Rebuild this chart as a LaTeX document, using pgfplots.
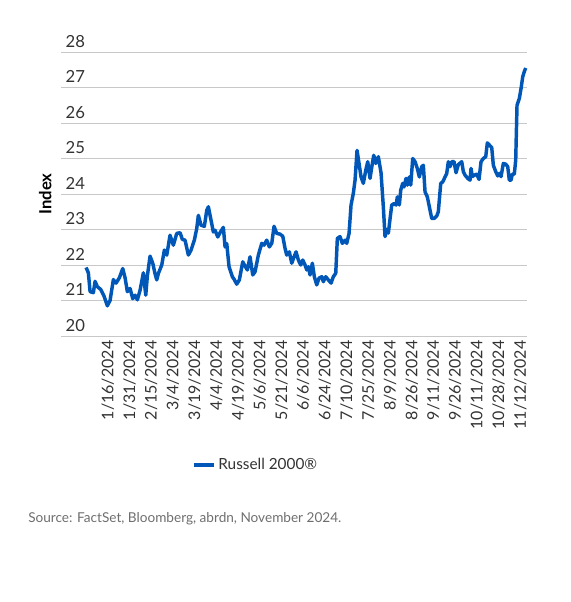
\documentclass[border=0pt]{standalone}
\usepackage{fontspec}
\setmainfont{Lato}
\usepackage{pgfplots}
\pgfplotsset{compat=1.18}
\definecolor{lineblue}{RGB}{0,87,184}
\definecolor{gridgray}{RGB}{200,200,200}
\definecolor{txt}{RGB}{51,51,51}
\definecolor{srcgray}{RGB}{110,110,110}
\begin{document}
\begin{tikzpicture}
\path[use as bounding box] (0,0) rectangle (427.5pt,-451.5pt);
\begin{axis}[
  at={(45.75pt,-252pt)}, anchor=south west,
  scale only axis, width=349.5pt, height=213pt,
  xmin=-12.7, xmax=223.4, ymin=20, ymax=28,
  axis line style={draw=none},
  tick style={draw=none},
  ymajorgrids, grid style={gridgray, line width=0.75pt},
  ytick={20,21,...,28},
  yticklabel style={anchor=south west, font=\fontsize{12.5}{14}\selectfont, text=txt},
  /pgf/number format/assume math mode=true,
  xtick={11,22,...,220},
  xticklabels={1/16/2024,1/31/2024,2/15/2024,3/4/2024,3/19/2024,4/4/2024,4/19/2024,5/6/2024,5/21/2024,6/6/2024,6/24/2024,7/10/2024,7/25/2024,8/9/2024,8/26/2024,9/11/2024,9/26/2024,10/11/2024,10/28/2024,11/12/2024},
  xticklabel style={rotate=90, anchor=east, font=\fontsize{12}{14}\selectfont, text=txt},
  ylabel={\textbf{Index}},
  ylabel style={at={(axis description cs:-0.034,0.5)}, anchor=center, font=\fontsize{12.5}{14}\selectfont, text=black},
  legend style={at={(0.418,-0.454)}, anchor=center, draw=none, fill=none, font=\fontsize{11.5}{13}\selectfont, text=txt},
  legend image code/.code={\draw[lineblue, line width=3pt] (0pt,0pt) -- (15pt,0pt);},
  clip=false,
]
\addplot[lineblue, line width=2.6pt, line join=round] coordinates {
(0,21.93) (1.17,21.78) (2.03,21.25) (3.70,21.22) (4.56,21.54) (5.72,21.39) (7.45,21.31) (9.12,21.12) (10.79,20.85) (12.16,21.0)
(13.83,21.59) (15.20,21.49) (16.87,21.64) (18.59,21.9) (19.76,21.64) (20.92,21.25) (22.29,21.34) (23.66,21.05) (24.82,21.15) (25.99,21.02)
(27.36,21.29) (29.03,21.78) (30.24,21.15) (31.05,21.69) (32.42,22.25) (33.79,22.05) (34.96,21.75) (35.82,21.58) (36.63,21.76) (38.35,22.0)
(39.67,22.42) (40.88,22.28) (42.55,22.84) (44.23,22.56) (45.95,22.89) (47.62,22.91) (48.79,22.72) (50.15,22.7) (51.83,22.28) (53.19,22.42)
(54.86,22.7) (56.08,23.03) (56.89,23.4) (58.26,23.12) (59.93,23.09) (61.15,23.54) (61.96,23.64) (63.33,23.26) (64.49,22.93) (65.35,22.98)
(66.72,22.79) (67.88,22.91) (69.56,23.06) (70.42,22.51) (71.28,22.6) (72.44,21.95) (74.12,21.67) (74.98,21.6) (76.34,21.46) (77.66,21.58)
(79.38,22.09) (80.55,21.97) (81.72,21.86) (83.08,22.23) (84.45,21.72) (85.62,21.81) (87.29,22.28) (89.01,22.61) (90.17,22.56) (91.54,22.7)
(92.86,22.51) (94.08,22.61) (95.24,23.09) (96.61,22.89) (98.28,22.87) (99.65,22.81) (100.81,22.47) (101.67,22.28) (102.99,22.37) (104.21,22.05)
(105.37,22.23) (106.39,22.37) (107.55,22.14) (108.77,22.0) (109.78,22.14) (110.95,22.0) (111.81,21.86) (112.62,21.95) (113.48,21.72) (114.64,22.05)
(115.66,21.67) (116.87,21.44) (118.04,21.63) (119.41,21.67) (120.22,21.53) (121.43,21.67) (122.75,21.58) (124.12,21.49) (125.28,21.67) (126.50,21.77)
(127.31,22.75) (128.67,22.8) (129.84,22.61) (131.21,22.7) (132.07,22.61) (133.24,22.89) (134.25,23.69) (135.41,24.02) (136.28,24.39) (137.29,25.23)
(138.30,24.86) (139.32,24.48) (140.48,24.3) (141.70,24.67) (142.71,24.91) (143.87,24.44) (145.04,24.86) (145.75,25.09) (146.76,24.86) (148.08,25.05)
(149.44,24.6) (150.61,23.64) (151.47,22.8) (152.49,23.0) (153.15,22.9) (154.01,23.3) (154.87,23.69) (156.03,23.73) (157.05,23.69) (157.71,23.92)
(158.72,23.69) (159.43,24.11) (160.44,24.3) (161.10,24.2) (162.11,24.44) (162.77,24.25) (163.78,24.48) (164.49,24.25) (165.50,25.0) (166.67,24.91)
(167.83,24.72) (168.85,24.48) (170.06,24.77) (170.88,24.81) (171.74,24.06) (172.90,23.92) (173.92,23.64) (175.13,23.31) (176.30,23.31) (177.66,23.38)
(178.47,23.5) (179.69,24.3) (180.70,24.34) (181.87,24.48) (182.73,24.58) (183.54,24.91) (184.40,24.77) (185.26,24.91) (186.43,24.91) (187.44,24.6)
(188.61,24.83) (190.33,24.91) (191.14,24.63) (192.00,24.53) (193.37,24.44) (194.53,24.39) (195.04,24.72) (195.70,24.49) (196.71,24.53) (197.93,24.56)
(199.09,24.41) (200.11,24.91) (201.27,25.0) (202.49,25.05) (203.30,25.44) (204.31,25.38) (205.53,25.31) (206.34,24.81) (207.55,24.63) (208.57,24.51)
(209.38,24.58) (210.24,24.49) (211.40,24.86) (212.62,24.84) (213.63,24.77) (214.44,24.39) (215.30,24.39) (215.96,24.56) (216.97,24.56) (217.68,24.96)
(218.34,26.5) (219.51,26.69) (220.37,26.97) (221.23,27.3) (222.04,27.45) (222.75,27.55)
};
\addlegendentry{Russell 2000®}
\end{axis}
\node[anchor=west, font=\fontsize{10.2}{12}\selectfont, text=srcgray, inner sep=0pt] at (21pt,-389.25pt) {Source: FactSet, Bloomberg, abrdn, November 2024.};
\end{tikzpicture}
\end{document}
